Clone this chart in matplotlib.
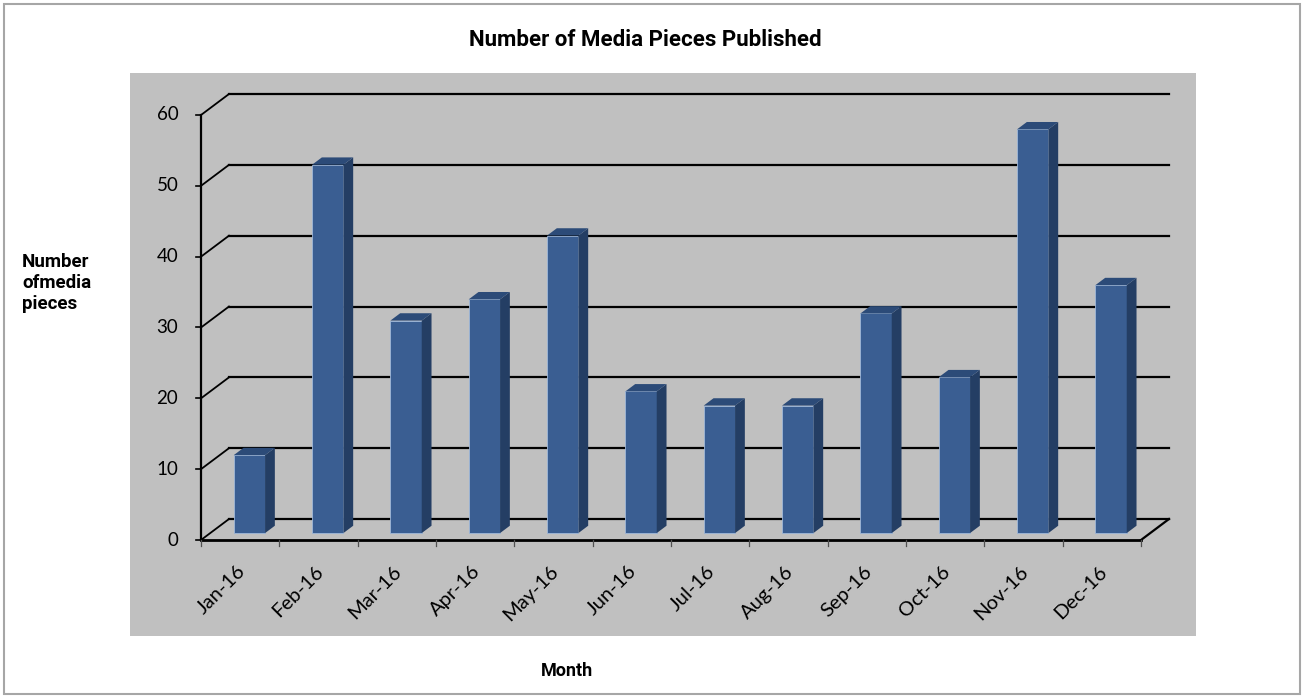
import matplotlib
matplotlib.use("Agg")
import matplotlib.pyplot as plt
from matplotlib.patches import Polygon, Rectangle

# Data
MONTHS = ["Jan-16", "Feb-16", "Mar-16", "Apr-16", "May-16", "Jun-16",
          "Jul-16", "Aug-16", "Sep-16", "Oct-16", "Nov-16", "Dec-16"]
PIECES = [11, 52, 30, 33, 42, 20, 18, 18, 31, 22, 57, 35]
Y_TICKS = [0, 10, 20, 30, 40, 50, 60]

TITLE = "Number of Media Pieces Published"
Y_LABEL = "Number\nofmedia\npieces"
X_LABEL = "Month"

# Oblique "3D" look: full depth shift of the back wall, in data units
DX = 0.357
DY = 2.96
BAR_W = 0.4
BAR_D0 = 0.33   # depth where the bar front face sits
BAR_DS = 0.35   # bar depth

WALL = "#C0C0C0"
FRONT = "#3A5E92"
SIDE = "#243E64"
TOP = "#2C4B78"
GLOW = "#9FB8DA"

HEAD_FONT = ["Roboto", "DejaVu Sans"]
LABEL_FONT = ["Lato", "DejaVu Sans"]

W, H = 1304, 698
fig = plt.figure(figsize=(W / 100, H / 100), dpi=100)
fig.patch.set_facecolor("white")

# outer frame
fig.add_artist(Rectangle((4 / W, 4 / H), 1 - 8 / W, 1 - 8 / H, transform=fig.transFigure,
                         fill=False, edgecolor="#A6A6A6", linewidth=1.5))

# plot area (gray block), x in category units, y in value units
left, right, top, bottom = 130, 1196, 73, 636
ax = fig.add_axes([left / W, (H - bottom) / H, (right - left) / W, (bottom - top) / H])
ax.set_facecolor(WALL)
x0_px, y0_px = 201, 540
px_x = 940 / 12
px_y = 425 / 60
ax.set_xlim((left - x0_px) / px_x, (right - x0_px) / px_x)
ax.set_ylim((y0_px - bottom) / px_y, (y0_px - top) / px_y)
ax.set_xticks([])
ax.set_yticks([])
for s in ax.spines.values():
    s.set_visible(False)

n = len(MONTHS)

# back wall gridlines and left wall diagonals
for v in Y_TICKS:
    ax.plot([DX, n + DX], [v + DY, v + DY], color="black", lw=1.6, zorder=1)
    ax.plot([0, DX], [v, v + DY], color="black", lw=1.3, zorder=1)
    ax.plot([-0.07, 0], [v, v], color="black", lw=1.2, zorder=4)
    ax.text(-0.29, v, str(v), ha="right", va="center", fontsize=13.5,
            family=LABEL_FONT, color="black")

# floor edges and front value axis
ax.plot([0, n], [0, 0], color="black", lw=2.0, zorder=4)
ax.plot([n, n + DX], [0, DY], color="black", lw=1.6, zorder=4)
ax.plot([0, 0], [0, Y_TICKS[-1]], color="black", lw=1.6, zorder=4)
for i in range(n + 1):
    ax.plot([i, i], [0, -0.9], color="#505050", lw=0.9, zorder=4)

# columns: front face via bar(), side and top faces as polygons
base = BAR_D0 * DY
centers = [i + 0.5 + BAR_D0 * DX for i in range(n)]
ax.bar(centers, PIECES, width=BAR_W, bottom=base, color=FRONT,
       edgecolor=GLOW, linewidth=0.6, zorder=3)
sx, sy = BAR_DS * DX, BAR_DS * DY
for c, v in zip(centers, PIECES):
    xl, xr = c - BAR_W / 2, c + BAR_W / 2
    yt = base + v
    ax.add_patch(Polygon([(xr, base), (xr + sx, base + sy), (xr + sx, yt + sy), (xr, yt)],
                         closed=True, facecolor=SIDE, edgecolor="none", zorder=3))
    ax.add_patch(Polygon([(xl, yt), (xr, yt), (xr + sx, yt + sy), (xl + sx, yt + sy)],
                         closed=True, facecolor=TOP, edgecolor="none", zorder=3))

# month labels
for i, m in enumerate(MONTHS):
    ax.text(i + 0.45, -3.2, m, rotation=45, rotation_mode="anchor",
            ha="right", va="top", fontsize=14.5, family=LABEL_FONT, color="black")

# titles
fig.text(645 / W, 1 - 40 / H, TITLE, ha="center", va="center",
         fontsize=16, fontweight="bold", family=HEAD_FONT)
fig.text(22 / W, 1 - 283 / H, Y_LABEL, ha="left", va="center",
         fontsize=13.5, fontweight="bold", family=HEAD_FONT, linespacing=1.22)
fig.text(567 / W, 1 - 671 / H, X_LABEL, ha="center", va="center",
         fontsize=13, fontweight="bold", family=HEAD_FONT)

fig.savefig("out.png", dpi=100, facecolor="white")
